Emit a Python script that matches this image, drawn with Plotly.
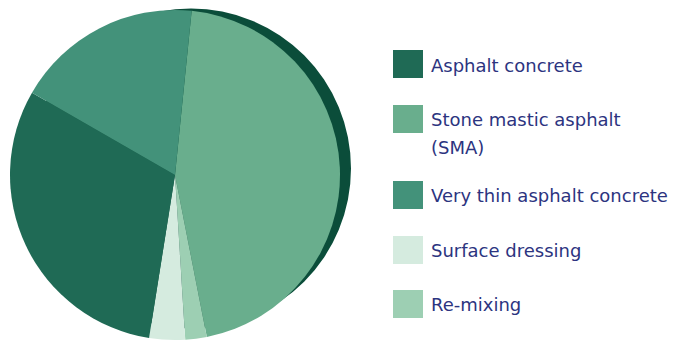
import plotly.graph_objects as go

# Share of surfacing types (percent), listed clockwise from the top of the pie
slice_labels = ["Stone mastic asphalt (SMA)", "Re-mixing", "Surface dressing",
                "Asphalt concrete", "Very thin asphalt concrete"]
slice_values = [45.3, 2.1, 3.5, 30.8, 18.3]

# Legend entries, in display order (each entry may wrap onto several lines)
legend_keys = ["Asphalt concrete", "Stone mastic asphalt (SMA)",
               "Very thin asphalt concrete", "Surface dressing", "Re-mixing"]
legend_lines = [["Asphalt concrete"], ["Stone mastic asphalt", "(SMA)"],
                ["Very thin asphalt concrete"], ["Surface dressing"], ["Re-mixing"]]

colors = {
    "Asphalt concrete": "#1f6a55",
    "Stone mastic asphalt (SMA)": "#69ae8d",
    "Very thin asphalt concrete": "#43927a",
    "Surface dressing": "#d5ebdf",
    "Re-mixing": "#9dcfb3",
}
rim_color = "#0b4d3a"
text_color = "#2c3480"

W, H = 685, 344

fig = go.Figure()
fig.add_trace(go.Pie(
    labels=slice_labels,
    values=slice_values,
    sort=False,
    direction="clockwise",
    rotation=5.8,
    marker=dict(colors=[colors[l] for l in slice_labels], line=dict(width=0)),
    textinfo="none",
    hoverinfo="label+percent",
    showlegend=False,
    domain=dict(x=[10 / W, 340 / W], y=[0, 338 / H]),
))

shapes = []
# dark rim behind the right-hand edge of the pie
rcx, rcy, rr = 191.0, 168.5, 160.0
shapes.append(dict(type="circle", xref="paper", yref="paper", layer="below",
                   x0=(rcx - rr) / W, x1=(rcx + rr) / W,
                   y0=(H - rcy - rr) / H, y1=(H - rcy + rr) / H,
                   fillcolor=rim_color, line=dict(width=0)))

# hand-built legend: swatch + label lines
annotations = []
swatch_tops = [50, 105, 181, 236, 290]
first_line_y = [65, 120, 195, 250, 304]
line_step = 27
for key, lines, top, ty in zip(legend_keys, legend_lines, swatch_tops, first_line_y):
    shapes.append(dict(type="rect", xref="paper", yref="paper",
                       x0=393 / W, x1=423 / W,
                       y0=(H - top - 28) / H, y1=(H - top) / H,
                       fillcolor=colors[key], line=dict(width=0)))
    for i, line in enumerate(lines):
        annotations.append(dict(xref="paper", yref="paper", x=429 / W,
                                y=(H - ty - i * line_step) / H,
                                text=line, showarrow=False, xanchor="left",
                                yanchor="middle", align="left",
                                font=dict(family="DejaVu Sans", size=18, color=text_color)))

fig.update_layout(
    width=W, height=H,
    margin=dict(l=0, r=0, t=0, b=0),
    paper_bgcolor="white", plot_bgcolor="white",
    shapes=shapes, annotations=annotations,
)

fig.write_html("out.html")
